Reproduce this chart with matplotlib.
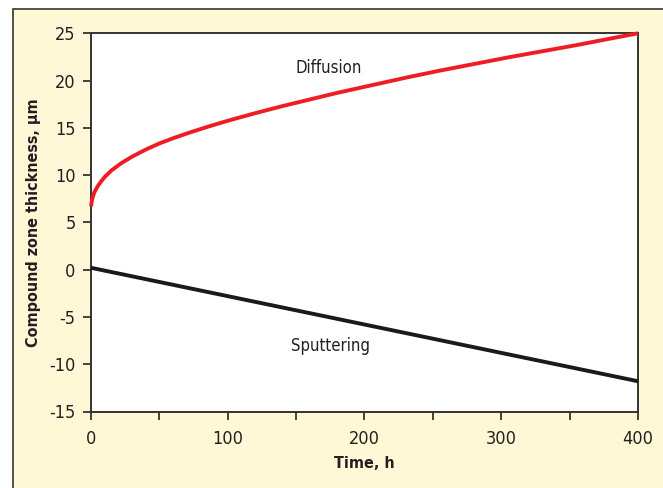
import numpy as np
import matplotlib
matplotlib.use("Agg")
import matplotlib.pyplot as plt
from matplotlib.patches import Rectangle

plt.rcParams['font.family'] = ['DejaVu Sans']
plt.rcParams['font.stretch'] = 'condensed'
plt.rcParams['axes.unicode_minus'] = False

# Diffusion curve
diff_time = [0, 1, 2.5, 5, 7.5, 10, 15, 22, 30, 40, 50, 60, 70, 85, 100, 120,
             140, 160, 180, 205, 230, 255, 280, 305, 330, 355, 380, 400]
diff_thick = [6.7, 7.55, 8.2, 8.85, 9.35, 9.8, 10.5, 11.25, 11.95, 12.7, 13.35,
              13.9, 14.4, 15.1, 15.75, 16.55, 17.3, 18.0, 18.7, 19.5, 20.3,
              21.05, 21.75, 22.45, 23.1, 23.75, 24.45, 25.0]

# Sputtering line
sput_time = [0, 100, 200, 300, 400]
sput_thick = [0.2, -2.8, -5.8, -8.8, -11.8]

x_ticks = [0, 100, 200, 300, 400]
x_minor = [50, 150, 250, 350]
y_ticks = [-15, -10, -5, 0, 5, 10, 15, 20, 25]

fig = plt.figure(figsize=(6.63, 4.88), dpi=100)
fig.patch.set_facecolor('white')

# cream panel behind the chart
panel = Rectangle((12.5 / 663, -0.05), 1.0, (488 - 9) / 488 + 0.05,
                  transform=fig.transFigure, facecolor='#FFF8D7',
                  edgecolor='#444444', linewidth=1.3, zorder=-10)
fig.add_artist(panel)

ax = fig.add_axes([91 / 663, 1 - 411.5 / 488, (638 - 91) / 663, (411.5 - 33.3) / 488])
ax.set_zorder(5)
ax.set_facecolor('white')

ax.plot(diff_time, diff_thick, color='#EE1D25', linewidth=2.8,
        solid_capstyle='butt', clip_on=False, zorder=3)
ax.plot(sput_time, sput_thick, color='#1A1A1A', linewidth=2.8,
        solid_capstyle='butt', clip_on=False, zorder=3)

ax.text(174, 21.3, 'Diffusion', ha='center', va='center', fontsize=12, color='#231F20')
ax.text(175.5, -8.05, 'Sputtering', ha='center', va='center', fontsize=12, color='#231F20')

ax.set_xlim(0, 400)
ax.set_ylim(-15, 25)
ax.set_xticks(x_ticks)
ax.set_xticks(x_minor, minor=True)
ax.set_yticks(y_ticks)

for s in ax.spines.values():
    s.set_color('#333333')
    s.set_linewidth(1.4)

ax.tick_params(axis='both', which='both', direction='out', length=6, width=1.3,
               color='#333333', labelsize=13, labelcolor='#231F20')
ax.tick_params(axis='x', pad=7)
ax.tick_params(axis='y', pad=5)

ax.set_xlabel('Time, h', fontsize=11.5, fontweight='bold', color='#231F20', labelpad=6)
ax.set_ylabel('Compound zone thickness, μm', fontsize=11.5, fontweight='bold',
              color='#231F20', labelpad=6)

fig.savefig('out.png', dpi=100)
